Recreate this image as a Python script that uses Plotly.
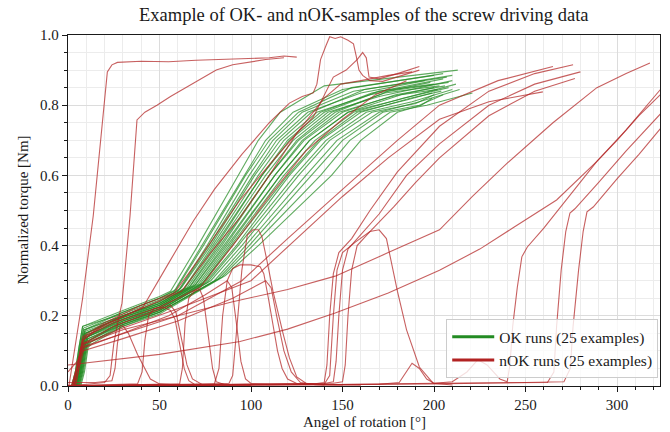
import plotly.graph_objects as go

# ---------------- data ----------------
x_ticks = [0, 50, 100, 150, 200, 250, 300]
y_ticks = [0.0, 0.2, 0.4, 0.6, 0.8, 1.0]

# OK runs: per-run key values
ok_start = [2.0, 2.5, 3.0, 2.0, 3.5, 2.5, 4.0, 3.0, 3.5, 4.5, 3.0, 4.0, 5.0, 3.5, 4.5, 5.5, 4.0, 5.0, 6.0, 4.5, 5.5, 6.5, 5.0, 6.0, 7.0]
ok_y_early = [0.17, 0.165, 0.16, 0.17, 0.15, 0.16, 0.15, 0.155, 0.16, 0.14, 0.15, 0.145, 0.14, 0.15, 0.14, 0.13, 0.145, 0.135, 0.13, 0.14, 0.13, 0.125, 0.135, 0.125, 0.12]
ok_y30 = [0.215, 0.21, 0.21, 0.205, 0.2, 0.2, 0.2, 0.195, 0.2, 0.195, 0.195, 0.19, 0.19, 0.19, 0.185, 0.185, 0.185, 0.18, 0.18, 0.18, 0.175, 0.175, 0.175, 0.17, 0.17]
ok_y50 = [0.255, 0.25, 0.25, 0.245, 0.24, 0.24, 0.235, 0.235, 0.235, 0.23, 0.23, 0.23, 0.225, 0.225, 0.225, 0.22, 0.22, 0.22, 0.215, 0.215, 0.215, 0.21, 0.21, 0.21, 0.205]
ok_knee_x = [56, 58, 59, 60, 61, 62, 63, 64, 65, 66, 67, 68, 69, 70, 71, 72, 73, 74, 75, 76, 78, 80, 82, 84, 86]
ok_knee_y = [0.27, 0.27, 0.275, 0.27, 0.275, 0.28, 0.275, 0.28, 0.28, 0.28, 0.285, 0.285, 0.285, 0.29, 0.29, 0.29, 0.29, 0.295, 0.295, 0.295, 0.3, 0.3, 0.305, 0.31, 0.315]
ok_x40 = [71, 73, 74, 76, 77, 78, 79, 80, 81, 82, 83, 84, 85, 86, 87, 88, 89, 90, 92, 93, 95, 97, 99, 101, 104]
ok_x60 = [93, 96, 97, 99, 101, 102, 104, 106, 106, 108, 110, 110, 113, 113, 116, 116, 118, 120, 121, 124, 126, 130, 133, 138, 144]
ok_x70 = [104, 108, 110, 112, 114, 116, 118, 120, 121, 123, 125, 126, 128, 129, 132, 132, 135, 137, 138, 141, 143, 147, 150, 154, 160]
ok_x78 = [116, 123, 126, 128, 131, 133, 136, 138, 140, 142, 144, 146, 148, 150, 153, 153, 156, 158, 160, 163, 166, 170, 172, 176, 180]
ok_xa = [140, 150, 155, 156, 160, 162, 165, 166, 170, 170, 173, 175, 177, 179, 180, 182, 183, 185, 187, 188, 190, 192, 192, 196, 193]
ok_ya = [0.855, 0.845, 0.85, 0.84, 0.835, 0.845, 0.83, 0.835, 0.84, 0.825, 0.835, 0.84, 0.825, 0.83, 0.815, 0.83, 0.82, 0.815, 0.82, 0.81, 0.805, 0.81, 0.8, 0.8, 0.8]
ok_xend = [213, 205, 200, 210, 195, 207, 198, 205, 200, 210, 203, 208, 200, 206, 212, 202, 208, 199, 204, 210, 200, 214, 205, 221, 199]
ok_yend = [0.9, 0.89, 0.885, 0.885, 0.87, 0.88, 0.865, 0.875, 0.86, 0.87, 0.855, 0.865, 0.85, 0.855, 0.86, 0.845, 0.85, 0.835, 0.84, 0.845, 0.83, 0.845, 0.83, 0.835, 0.82]

# nOK runs: angle / torque lists per run
nok_angle = [
    [0.5, 8, 13.8, 21.5, 24, 27, 40, 55, 70, 85, 100, 110, 118, 125],
    [0, 10, 20, 23, 25, 27.5, 29.5, 33.9, 37.7, 42, 48.6, 56, 65, 73, 81, 90, 99.5, 108, 118],
    [2, 5, 8, 15, 25, 35, 41, 55, 68.5, 80, 95, 110, 121, 128, 134, 136, 138, 141, 143, 146, 149, 153, 156, 157.5, 159, 161, 165, 172, 182, 192],
    [3, 5.5, 8, 20, 40, 58, 70, 82, 94, 110, 125, 134, 140, 145, 152, 158, 161, 163, 164.5, 170, 180, 192],
    [3, 5, 8, 20, 40, 62, 78, 94, 110, 125, 140, 149, 160, 175, 188],
    [0, 8, 30, 50, 94, 120, 146, 175, 203, 225, 243, 267, 289, 305, 324.6],
    [3, 6, 9, 30, 60, 90, 120, 146, 175, 203, 221, 240, 265, 289, 305, 318],
    [0, 15, 24, 25.7, 27, 28.4, 30, 33, 38, 42, 45, 50, 60, 80],
    [0, 20, 38, 40.5, 42, 44, 47, 52, 56, 58.5, 61, 63.5, 66, 69, 80, 100],
    [3, 5, 8, 25, 45, 56, 59, 62, 65, 68, 73, 90],
    [0, 40, 61, 62.5, 64, 66, 69, 72, 74, 76.5, 79, 81, 85, 100],
    [0, 60, 88, 90, 92, 95, 98, 101, 104, 106, 109, 112, 117.5, 121, 125, 130, 140, 160],
    [0, 60, 80, 82.5, 84.5, 87, 90, 94, 100, 105, 107, 109.5, 112, 114.5, 117, 120, 125, 140],
    [4, 6, 9, 30, 55, 75, 87, 89.5, 92, 94.5, 97, 100, 110],
    [0, 5, 8, 30, 60, 90, 108, 111, 114, 118, 122, 127, 135, 150],
    [0, 100, 140, 143, 145, 147, 150, 157, 165, 170, 174, 180, 185, 192, 199.5, 210],
    [0, 60, 120, 170, 181, 185, 188, 192, 196, 200, 210, 218, 224, 229, 236, 240, 241.5, 243, 245.5, 248, 251, 260, 275, 289, 300, 312, 324.6],
    [0, 100, 150, 200, 240, 262, 265.5, 267, 269.5, 272, 274.3, 277, 290, 305, 324.6],
    [0, 120, 200, 250, 271, 274.5, 276, 279, 281.5, 283.6, 287, 300, 312, 324.6],
    [0, 80, 135, 140, 141.5, 143, 145, 148, 155, 165, 180, 203, 230, 255, 276],
    [0, 100, 140, 145, 146.5, 148, 150, 153, 160, 170, 185, 203, 230, 255, 280],
    [0, 110, 145, 150, 151.5, 153, 155, 158, 165, 178, 190, 203, 230, 255, 277],
    [3, 5.5, 8, 30, 60, 100, 125, 150, 175, 203, 230, 259.5],
    [2, 4.5, 7, 30, 60, 95, 120, 150, 180, 203, 235, 265],
    [4, 6, 9, 25, 50, 72, 90, 110, 130, 150, 168, 185],
]
nok_torque = [
    [0, 0.25, 0.485, 0.895, 0.915, 0.922, 0.925, 0.924, 0.928, 0.93, 0.932, 0.935, 0.94, 0.937],
    [0.0, 0.005, 0.01, 0.03, 0.12, 0.19, 0.236, 0.485, 0.758, 0.78, 0.80, 0.825, 0.852, 0.875, 0.9, 0.915, 0.923, 0.93, 0.935],
    [0, 0.05, 0.13, 0.16, 0.185, 0.21, 0.225, 0.35, 0.47, 0.56, 0.66, 0.75, 0.806, 0.825, 0.835, 0.86, 0.93, 0.97, 0.995, 0.99, 0.995, 0.985, 0.975, 0.94, 0.9, 0.885, 0.87, 0.868, 0.885, 0.9],
    [0, 0.06, 0.14, 0.18, 0.23, 0.265, 0.35, 0.44, 0.53, 0.63, 0.72, 0.766, 0.83, 0.88, 0.9, 0.93, 0.95, 0.935, 0.88, 0.875, 0.89, 0.91],
    [0, 0.05, 0.13, 0.175, 0.22, 0.27, 0.38, 0.48, 0.6, 0.72, 0.82, 0.86, 0.87, 0.885, 0.895],
    [0.06, 0.065, 0.078, 0.09, 0.127, 0.162, 0.208, 0.265, 0.33, 0.39, 0.45, 0.53, 0.64, 0.73, 0.85],
    [0, 0.07, 0.12, 0.16, 0.2, 0.24, 0.275, 0.313, 0.38, 0.445, 0.54, 0.635, 0.75, 0.85, 0.89, 0.92],
    [0.01, 0.01, 0.015, 0.05, 0.12, 0.17, 0.172, 0.15, 0.09, 0.05, 0.02, 0.006, 0.003, 0.002],
    [0.0, 0.003, 0.006, 0.04, 0.13, 0.2, 0.22, 0.225, 0.215, 0.19, 0.12, 0.05, 0.015, 0.005, 0.003, 0.002],
    [0, 0.05, 0.12, 0.17, 0.21, 0.23, 0.21, 0.13, 0.06, 0.02, 0.005, 0.003],
    [0.0, 0.003, 0.006, 0.05, 0.18, 0.25, 0.27, 0.275, 0.25, 0.15, 0.05, 0.012, 0.005, 0.003],
    [0.0, 0.003, 0.008, 0.03, 0.15, 0.33, 0.43, 0.445, 0.445, 0.425, 0.35, 0.27, 0.15, 0.08, 0.026, 0.008, 0.004, 0.002],
    [0, 0.003, 0.006, 0.05, 0.2, 0.3, 0.335, 0.345, 0.345, 0.34, 0.32, 0.25, 0.17, 0.1, 0.05, 0.02, 0.007, 0.003],
    [0, 0.05, 0.11, 0.15, 0.2, 0.26, 0.3, 0.28, 0.18, 0.07, 0.02, 0.007, 0.004],
    [0.04, 0.07, 0.1, 0.135, 0.185, 0.25, 0.3, 0.28, 0.2, 0.1, 0.04, 0.01, 0.004, 0.003],
    [0.0, 0.003, 0.005, 0.03, 0.2, 0.33, 0.38, 0.41, 0.44, 0.445, 0.42, 0.27, 0.16, 0.054, 0.008, 0.003],
    [0.002, 0.003, 0.005, 0.005, 0.01, 0.04, 0.065, 0.05, 0.02, 0.008, 0.012, 0.04, 0.075, 0.06, 0.02, 0.012, 0.06, 0.17, 0.28, 0.368, 0.396, 0.45, 0.55, 0.64, 0.7, 0.77, 0.835],
    [0.0, 0.002, 0.004, 0.008, 0.01, 0.01, 0.04, 0.17, 0.33, 0.44, 0.493, 0.505, 0.58, 0.67, 0.78],
    [0.0, 0.003, 0.006, 0.01, 0.012, 0.05, 0.17, 0.33, 0.44, 0.496, 0.51, 0.59, 0.66, 0.739],
    [0.0, 0.003, 0.006, 0.01, 0.06, 0.2, 0.32, 0.38, 0.42, 0.5, 0.61, 0.74, 0.84, 0.89, 0.915],
    [0.0, 0.004, 0.007, 0.012, 0.07, 0.2, 0.33, 0.39, 0.43, 0.49, 0.6, 0.69, 0.8, 0.86, 0.895],
    [0.0, 0.005, 0.008, 0.012, 0.06, 0.2, 0.33, 0.4, 0.44, 0.51, 0.58, 0.65, 0.77, 0.84, 0.876],
    [0, 0.06, 0.12, 0.165, 0.22, 0.3, 0.42, 0.54, 0.65, 0.76, 0.81, 0.838],
    [0, 0.05, 0.11, 0.15, 0.2, 0.3, 0.42, 0.56, 0.7, 0.8, 0.87, 0.91],
    [0, 0.05, 0.14, 0.18, 0.225, 0.28, 0.4, 0.54, 0.67, 0.76, 0.83, 0.87],
]

# ---------------- figure ----------------
FONT = "Liberation Serif"
TXT = "#1a1a1a"
GREEN = "rgba(34,139,34,0.72)"
RED = "rgba(178,34,34,0.72)"

fig = go.Figure()

for i in range(len(ok_start)):
    xs = ok_start[i]
    ax = [xs, xs + 2, xs + 4, xs + 6, 30, 50, ok_knee_x[i], ok_x40[i], ok_x60[i], ok_x70[i],
          ok_x78[i], ok_xa[i], ok_xend[i]]
    ay = [0, 0.04, 0.11, ok_y_early[i], ok_y30[i], ok_y50[i], ok_knee_y[i], 0.4, 0.6, 0.7,
          0.78, ok_ya[i], ok_yend[i]]
    fig.add_trace(go.Scatter(x=ax, y=ay, mode="lines", line=dict(color=GREEN, width=1.1),
                             showlegend=False, hoverinfo="skip"))

for ax, ay in zip(nok_angle, nok_torque):
    fig.add_trace(go.Scatter(x=ax, y=ay, mode="lines", line=dict(color=RED, width=1.1),
                             showlegend=False, hoverinfo="skip"))

# legend entries
fig.add_trace(go.Scatter(x=[None], y=[None], mode="lines", name="OK runs (25 examples)",
                         line=dict(color="rgb(34,139,34)", width=3)))
fig.add_trace(go.Scatter(x=[None], y=[None], mode="lines", name="nOK runs (25 examples)",
                         line=dict(color="rgb(178,34,34)", width=3)))

fig.update_layout(
    width=670, height=432,
    margin=dict(l=68, r=10, t=35, b=46, autoexpand=False),
    paper_bgcolor="white", plot_bgcolor="white",
    font=dict(family=FONT, size=15, color=TXT),
    title=dict(text="Example of OK- and nOK-samples of the screw driving data",
               x=0.543, xanchor="center", y=0.967, yanchor="middle",
               font=dict(family=FONT, size=18.5, color=TXT)),
    legend=dict(x=0.997, y=0.022, xanchor="right", yanchor="bottom",
                bgcolor="rgba(255,255,255,0.8)", bordercolor="#cccccc", borderwidth=1,
                font=dict(family=FONT, size=15.5, color=TXT),
                itemwidth=42, tracegroupgap=2),
    annotations=[
        dict(text="Angel of rotation [°]", xref="paper", yref="paper", x=0.5, y=0,
             xanchor="center", yanchor="middle", yshift=-36, showarrow=False,
             font=dict(family=FONT, size=15, color=TXT)),
        dict(text="Normalized torque [Nm]", xref="paper", yref="paper", x=0, y=0.5,
             xanchor="center", yanchor="middle", xshift=-46, textangle=-90, showarrow=False,
             font=dict(family=FONT, size=15, color=TXT)),
    ],
)

fig.update_xaxes(
    range=[0, 323.5], tickvals=x_ticks, ticks="outside", ticklen=5, tickwidth=1, tickcolor=TXT,
    showline=True, linecolor=TXT, linewidth=1.3, mirror=True, automargin=False,
    showgrid=True, gridcolor="#dcdcdc", gridwidth=1,
    minor=dict(dtick=10, ticks="outside", ticklen=3, tickcolor=TXT, showgrid=True, gridcolor="#ececec"),
    tickfont=dict(family=FONT, size=15, color=TXT),
    zeroline=False,
)
fig.update_yaxes(
    range=[0, 1.0], tickvals=y_ticks, tickformat=".1f", ticks="outside", ticklen=5, tickwidth=1, tickcolor=TXT,
    showline=True, linecolor=TXT, linewidth=1.3, mirror=True, automargin=False,
    showgrid=True, gridcolor="#dcdcdc", gridwidth=1,
    minor=dict(dtick=0.05, ticks="outside", ticklen=3, tickcolor=TXT, showgrid=True, gridcolor="#ececec"),
    tickfont=dict(family=FONT, size=15, color=TXT),
    zeroline=False,
)

fig.write_html("out.html",
               config={"displayModeBar": False, "staticPlot": True},
               post_script="document.body.style.margin='0px';document.body.style.overflow='hidden';")
